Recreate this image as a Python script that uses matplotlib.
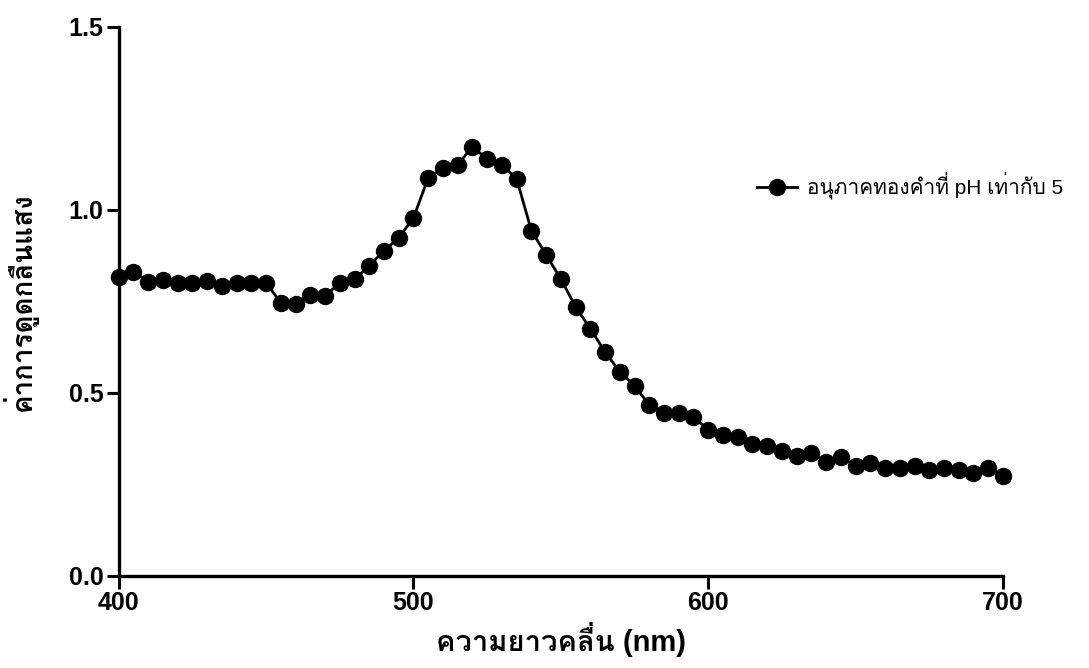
import matplotlib
matplotlib.use("Agg")
import matplotlib.pyplot as plt
from matplotlib import font_manager

# wavelength (nm) and absorbance
wavelength = list(range(400, 701, 5))
absorbance = [0.815, 0.830, 0.803, 0.809, 0.800, 0.800, 0.806, 0.793, 0.800, 0.800,
              0.800, 0.746, 0.742, 0.768, 0.765, 0.800, 0.810, 0.847, 0.888, 0.923,
              0.978, 1.087, 1.113, 1.123, 1.172, 1.139, 1.122, 1.085, 0.943, 0.877,
              0.811, 0.735, 0.675, 0.612, 0.557, 0.519, 0.467, 0.445, 0.445, 0.434,
              0.398, 0.385, 0.380, 0.360, 0.355, 0.342, 0.328, 0.336, 0.311, 0.325,
              0.300, 0.309, 0.295, 0.295, 0.300, 0.290, 0.295, 0.288, 0.282, 0.295,
              0.273]
series_label = "อนุภาคทองคำที่ pH เท่ากับ 5"
xlabel = "ความยาวคลื่น (nm)"
ylabel = "ค่าการดูดกลืนแสง"
xticks = [400, 500, 600, 700]
yticks = [0.0, 0.5, 1.0, 1.5]

# find some installed font that has Thai glyphs
thai_font = None
for f in font_manager.fontManager.ttflist:
    try:
        cmap = font_manager.get_font(f.fname).get_charmap()
    except Exception:
        continue
    if 0x0E01 in cmap and 0x0E32 in cmap:
        thai_font = f.name
        break
families = ['Liberation Sans']
if thai_font:
    families.append(thai_font)
families.append('DejaVu Sans')
plt.rcParams['font.family'] = families

fig = plt.figure(figsize=(10.89, 6.68), dpi=100)
ax = fig.add_axes([0.109, 0.138, 0.812, 0.822])

ax.plot(wavelength, absorbance, color='black', linewidth=2.0, marker='o',
        markersize=11.5, label=series_label, clip_on=False, zorder=3)

ax.set_xlim(400, 700)
ax.set_ylim(0, 1.5)
ax.set_xticks(xticks)
ax.set_yticks(yticks)
ax.set_yticklabels([f"{v:.1f}" for v in yticks])

for s in ['top', 'right']:
    ax.spines[s].set_visible(False)
for s in ['left', 'bottom']:
    ax.spines[s].set_linewidth(2.4)
ax.tick_params(direction='out', length=9, width=2.2, labelsize=18, pad=2)
for lab in ax.get_xticklabels() + ax.get_yticklabels():
    lab.set_fontweight('bold')

ax.set_xlabel(xlabel, fontsize=21, fontweight='bold', labelpad=5)
ax.set_ylabel(ylabel, fontsize=20, fontweight='bold', labelpad=22)

leg = ax.legend(loc='center left', bbox_to_anchor=(0.722, 0.71), frameon=False,
                fontsize=15, handlelength=1.9, handletextpad=0.5,
                borderpad=0, borderaxespad=0)

fig.savefig("out.png", dpi=100)
